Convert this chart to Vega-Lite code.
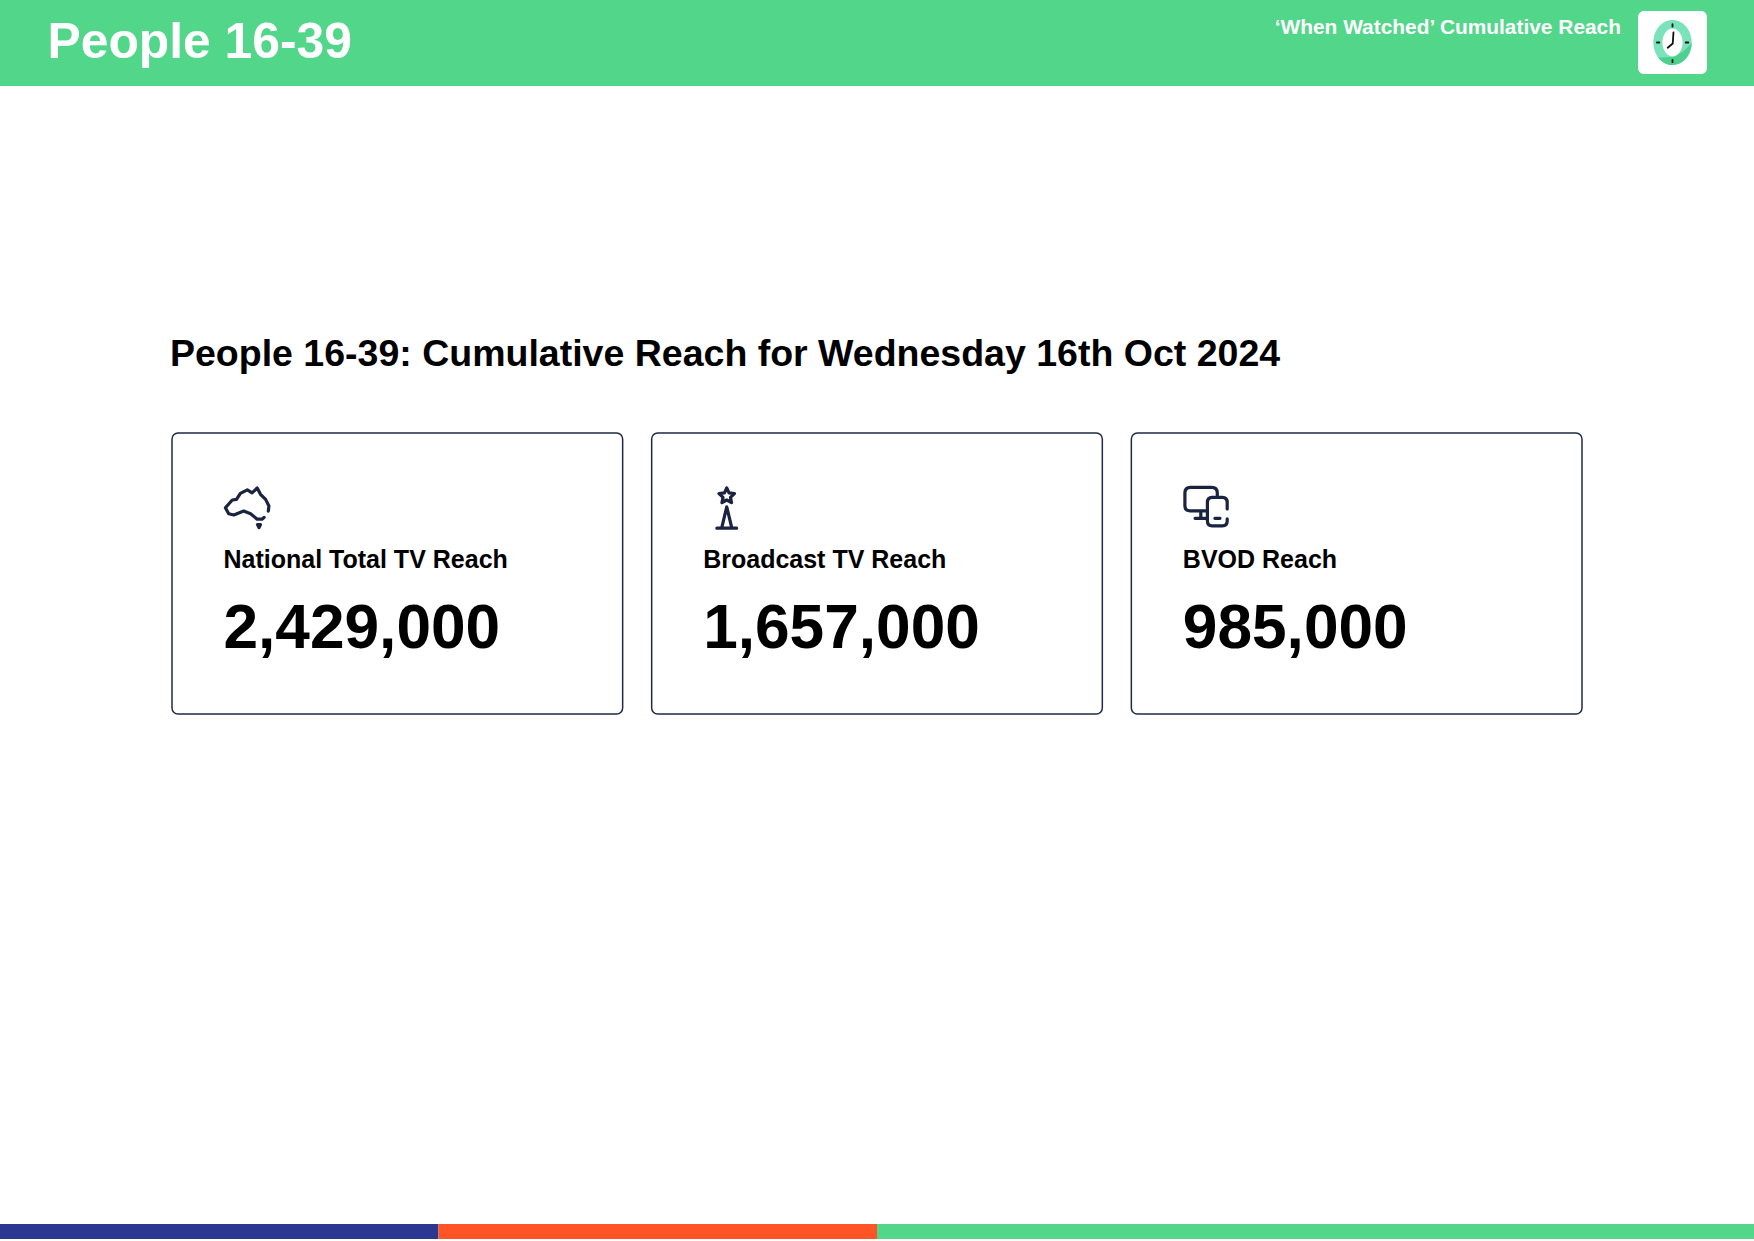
{
  "$schema": "https://vega.github.io/schema/vega-lite/v6.json",
  "autosize": {"type": "fit", "contains": "padding"},
  "width": 1754,
  "height": 1241,
  "padding": 0,
  "background": "white",
  "config": {"view": {"stroke": null}, "font": "Liberation Sans"},
  "datasets": {
    "cards": [
      {"metric": "National Total TV Reach", "reach": 2429000},
      {"metric": "Broadcast TV Reach", "reach": 1657000},
      {"metric": "BVOD Reach", "reach": 985000}
    ],
    "stripe": [
      {"part": 1, "share": 25},
      {"part": 2, "share": 25},
      {"part": 3, "share": 50}
    ]
  },
  "data": {"name": "cards"},
  "layer": [
    {
      "data": {"values": [{"block": "header"}]},
      "mark": {"type": "rect", "fill": "#52d68a"},
      "encoding": {
        "x": {"field": "block", "type": "nominal", "axis": null, "scale": {"type": "band", "range": [0, 1754], "paddingInner": 0, "paddingOuter": 0}},
        "y": {"field": "block", "type": "nominal", "axis": null, "scale": {"type": "band", "range": [0, 86], "paddingInner": 0, "paddingOuter": 0}}
      }
    },
    {
      "data": {"values": [{"block": "logo"}]},
      "mark": {"type": "rect", "fill": "white", "cornerRadius": 6},
      "encoding": {
        "x": {"field": "block", "type": "nominal", "axis": null, "scale": {"type": "band", "range": [1638, 1707], "paddingInner": 0, "paddingOuter": 0}},
        "y": {"field": "block", "type": "nominal", "axis": null, "scale": {"type": "band", "range": [11, 74], "paddingInner": 0, "paddingOuter": 0}}
      }
    },
    {
      "data": {"values": [{"part": "rim"}, {"part": "shade"}, {"part": "dial"}]},
      "mark": {"type": "point", "filled": true, "size": 2304, "opacity": 1},
      "encoding": {
        "x": {"field": "part", "type": "nominal", "axis": null, "scale": {"type": "point", "range": [1672.5, 1672.5]}},
        "y": {"field": "part", "type": "nominal", "axis": null, "scale": {"type": "point", "range": [42.5, 42.5]}},
        "color": {"field": "part", "type": "nominal", "legend": null, "scale": {"domain": ["rim", "shade", "dial"], "range": ["#7be3bb", "#4fd08f", "#ffffff"]}},
        "shape": {"field": "part", "type": "nominal", "legend": null, "scale": {"domain": ["rim", "shade", "dial"], "range": [
          "M-.8 0A.8 .94 0 1 1 .8 0A.8 .94 0 1 1 -.8 0Z",
          "M.8 0A.8 .94 0 0 1 -.6 .62Q.3 .7 .8 0Z",
          "M-.42 0A.42 .58 0 1 1 .42 0A.42 .58 0 1 1 -.42 0Z"
        ]}}
      }
    },
    {
      "data": {"values": [{"part": "hands"}]},
      "mark": {"type": "point", "filled": false, "size": 2304, "color": "#111111", "strokeWidth": 1.8, "opacity": 1, "strokeCap": "round", "shape": "M0 -.76L0 -.66M0 .72L0 .82M-.65 0L-.55 0M.55 0L.66 0M.04 -.42L.01 .04L-.2 .22"},
      "encoding": {
        "x": {"field": "part", "type": "nominal", "axis": null, "scale": {"type": "point", "range": [1672.5, 1672.5]}},
        "y": {"field": "part", "type": "nominal", "axis": null, "scale": {"type": "point", "range": [42.5, 42.5]}}
      }
    },
    {
      "data": {"values": [{"text": "People 16-39"}]},
      "mark": {"type": "text", "align": "left", "baseline": "alphabetic", "fontWeight": "bold", "fontSize": 49.8, "fill": "white"},
      "encoding": {
        "x": {"field": "text", "type": "nominal", "axis": null, "scale": {"type": "point", "range": [47.5, 47.5]}},
        "y": {"field": "text", "type": "nominal", "axis": null, "scale": {"type": "point", "range": [58, 58]}},
        "text": {"field": "text"}
      }
    },
    {
      "data": {"values": [{"text": "‘When Watched’ Cumulative Reach"}]},
      "mark": {"type": "text", "align": "right", "baseline": "alphabetic", "fontWeight": "bold", "fontSize": 20.9, "fill": "white"},
      "encoding": {
        "x": {"field": "text", "type": "nominal", "axis": null, "scale": {"type": "point", "range": [1621, 1621]}},
        "y": {"field": "text", "type": "nominal", "axis": null, "scale": {"type": "point", "range": [34, 34]}},
        "text": {"field": "text"}
      }
    },
    {
      "data": {"values": [{"text": "People 16-39: Cumulative Reach for Wednesday 16th Oct 2024"}]},
      "mark": {"type": "text", "align": "left", "baseline": "alphabetic", "fontWeight": "bold", "fontSize": 37.5, "fill": "black"},
      "encoding": {
        "x": {"field": "text", "type": "nominal", "axis": null, "scale": {"type": "point", "range": [170, 170]}},
        "y": {"field": "text", "type": "nominal", "axis": null, "scale": {"type": "point", "range": [366, 366]}},
        "text": {"field": "text"}
      }
    },
    {
      "mark": {"type": "rect", "fill": "white", "stroke": "#1f2a44", "strokeWidth": 1.5, "cornerRadius": 6},
      "encoding": {
        "x": {"field": "metric", "type": "nominal", "axis": null, "sort": null, "scale": {"type": "band", "range": [172, 1582], "paddingInner": 0.0605, "paddingOuter": 0}},
        "y": {"datum": "card", "type": "nominal", "axis": null, "scale": {"type": "band", "domain": ["card"], "range": [433, 714], "paddingInner": 0, "paddingOuter": 0}}
      }
    },
    {
      "mark": {"type": "point", "filled": false, "size": 3600, "color": "#1a2340", "strokeWidth": 3.2, "opacity": 1, "strokeCap": "round", "strokeJoin": "round"},
      "encoding": {
        "x": {"field": "metric", "type": "nominal", "axis": null, "sort": null, "scale": {"type": "point", "padding": 0, "range": [245.5, 1205]}},
        "y": {"field": "metric", "type": "nominal", "axis": null, "sort": null, "scale": {"type": "point", "range": [506, 506]}},
        "shape": {"field": "metric", "type": "nominal", "legend": null, "scale": {"domain": ["National Total TV Reach", "Broadcast TV Reach", "BVOD Reach"], "range": [
          "M.62 .38L.56 .44L.39 .44L.17 .26L-.06 .17L-.39 .3L-.56 .26L-.67 .06L-.44 -.2L-.3 -.22L-.17 -.42L.06 -.54L.22 -.44L.39 -.6L.5 -.39L.67 -.22L.78 0L.76 .17M.4 .62L.5 .62L.45 .72Z",
          "M.05 -.6L.126 -.435L.307 -.413L.174 -.29L.209 -.112L.05 -.2L-.109 -.112L-.074 -.29L-.207 -.413L-.026 -.435ZM-.12 .74L.05 .03L.22 .74M-.28 .74L.38 .74",
          "M.06 .16L-.5 .16Q-.67 .16 -.67 -.01L-.67 -.43Q-.67 -.62 -.48 -.62L.22 -.62Q.41 -.62 .41 -.43L.41 -.34M.74 .1L.74 -.12Q.74 -.29 .58 -.29L.24 -.29Q.08 -.29 .08 -.12L.08 .49Q.08 .66 .24 .66L.58 .66Q.74 .66 .74 .49L.74 .43M-.14 .16L-.14 .41M-.33 .41L.06 .41M.33 .41L.5 .41"
        ]}}
      }
    },
    {
      "mark": {"type": "text", "align": "left", "baseline": "alphabetic", "fontWeight": "bold", "fontSize": 25, "fill": "black", "dx": 51.5},
      "encoding": {
        "x": {"field": "metric", "type": "nominal", "axis": null, "sort": null, "bandPosition": 0, "scale": {"type": "band", "range": [172, 1582], "paddingInner": 0.0605, "paddingOuter": 0}},
        "y": {"field": "metric", "type": "nominal", "axis": null, "sort": null, "scale": {"type": "point", "range": [568, 568]}},
        "text": {"field": "metric"}
      }
    },
    {
      "mark": {"type": "text", "align": "left", "baseline": "alphabetic", "fontWeight": "bold", "fontSize": 62.2, "fill": "black", "dx": 51.5},
      "encoding": {
        "x": {"field": "metric", "type": "nominal", "axis": null, "sort": null, "bandPosition": 0, "scale": {"type": "band", "range": [172, 1582], "paddingInner": 0.0605, "paddingOuter": 0}},
        "y": {"field": "metric", "type": "nominal", "axis": null, "sort": null, "scale": {"type": "point", "range": [648, 648]}},
        "text": {"field": "reach", "type": "quantitative", "format": ","}
      }
    },
    {
      "data": {"name": "stripe"},
      "mark": {"type": "bar"},
      "encoding": {
        "x": {"field": "share", "type": "quantitative", "stack": "zero", "axis": null, "scale": {"domain": [0, 100], "range": [0, 1754], "nice": false}},
        "y": {"datum": "stripe", "type": "nominal", "axis": null, "scale": {"type": "band", "domain": ["stripe"], "range": [1224, 1239], "paddingInner": 0, "paddingOuter": 0}},
        "color": {"field": "part", "type": "nominal", "legend": null, "scale": {"domain": [1, 2, 3], "range": ["#2b3892", "#ff5526", "#52d68a"]}},
        "order": {"field": "part"}
      }
    }
  ],
  "resolve": {"scale": {"x": "independent", "y": "independent", "color": "independent", "shape": "independent"}}
}
